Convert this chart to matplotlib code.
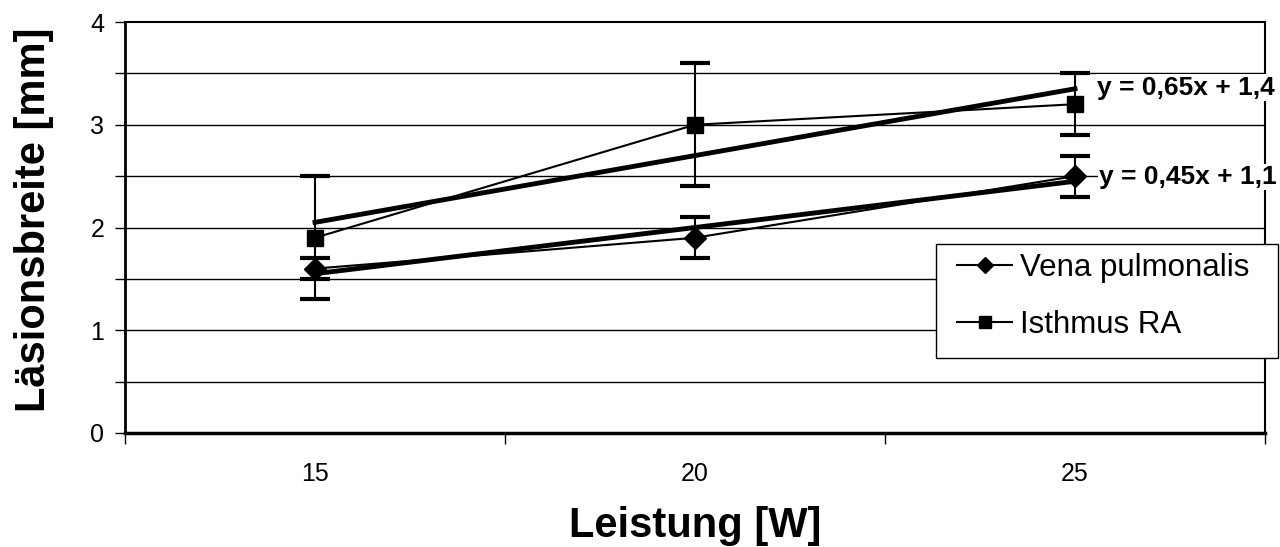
import matplotlib.pyplot as plt
import numpy as np
from matplotlib.lines import Line2D
from matplotlib.patches import Rectangle

plt.rcParams['font.family'] = ['Liberation Sans', 'DejaVu Sans']

leistung = ['15', '20', '25']
vena = [1.6, 1.9, 2.5]
vena_err = [0.1, 0.2, 0.2]
isthmus = [1.9, 3.0, 3.2]
isthmus_err = [0.6, 0.6, 0.3]
# Excel linear trendlines (slope, intercept) over category index 1..3
vena_fit = (0.45, 1.1)
isthmus_fit = (0.65, 1.4)
vena_eq = 'y = 0,45x + 1,1'
isthmus_eq = 'y = 0,65x + 1,4'

x = np.arange(1, len(leistung) + 1)

fig = plt.figure(figsize=(12.8, 5.47), dpi=100)
ax = fig.add_axes([125 / 1280, 1 - 433 / 547, 1140 / 1280, 411 / 547])

for yv in np.arange(0.5, 4.0, 0.5):
    ax.axhline(yv, color='black', lw=1.0, zorder=1)

ax.errorbar(x, vena, yerr=vena_err, color='black', lw=1.5, marker='D',
            markersize=11, capsize=11, capthick=3, elinewidth=1.5, zorder=3)
ax.errorbar(x, isthmus, yerr=isthmus_err, color='black', lw=1.5, marker='s',
            markersize=11, capsize=11, capthick=3, elinewidth=1.5, zorder=3)

ax.plot(x, vena_fit[0] * x + vena_fit[1], color='black', lw=3.5, zorder=2)
ax.plot(x, isthmus_fit[0] * x + isthmus_fit[1], color='black', lw=3.5, zorder=2)

ax.text(3.058, isthmus_fit[0] * 3 + isthmus_fit[1] + 0.01, isthmus_eq, fontsize=19,
        fontweight='bold', va='center', ha='left', zorder=5,
        bbox=dict(facecolor='white', edgecolor='none', pad=1))
ax.text(3.063, vena_fit[0] * 3 + vena_fit[1] + 0.04, vena_eq, fontsize=19,
        fontweight='bold', va='center', ha='left', zorder=5,
        bbox=dict(facecolor='white', edgecolor='none', pad=1))

ax.set_xlim(0.5, 3.5)
ax.set_ylim(0, 4)
ax.set_xticks(np.arange(0.5, 3.6, 1.0))
ax.set_xticklabels([])
ax.set_xticks(x, minor=True)
ax.set_xticklabels(leistung, minor=True)
ax.tick_params(axis='x', which='minor', length=0, labelsize=18, pad=21)
ax.tick_params(axis='x', which='major', length=8, width=1, direction='out')
yt = np.arange(0, 4.01, 0.5)
ax.set_yticks(yt)
ax.set_yticklabels([('%d' % v if v == int(v) else '') for v in yt])
ax.tick_params(axis='y', length=7, width=1, direction='out', labelsize=18, pad=8)

for s in ['top', 'right']:
    ax.spines[s].set_linewidth(1.5)
ax.spines['left'].set_linewidth(2)
ax.spines['bottom'].set_linewidth(2.5)

ax.set_xlabel('Leistung [W]', fontsize=30, fontweight='bold')
ax.set_ylabel('Läsionsbreite [mm]', fontsize=30, fontweight='bold')
ax.xaxis.set_label_coords(0.5, -0.178)
ax.yaxis.set_label_coords(-0.062, 0.52)

# legend frame drawn separately to match the reference box size
box = Rectangle((0.7114, 0.1825), 0.3, 0.2774, transform=ax.transAxes,
                facecolor='white', edgecolor='black', lw=1, clip_on=False, zorder=6)
ax.add_patch(box)
handles = [Line2D([], [], color='black', lw=1.5, marker='D', markersize=8),
           Line2D([], [], color='black', lw=1.5, marker='s', markersize=8)]
leg = ax.legend(handles, ['Vena pulmonalis', 'Isthmus RA'], loc='upper left',
                bbox_to_anchor=(0.722, 0.46), fontsize=22.5, frameon=False,
                handlelength=1.75, handletextpad=0.25, labelspacing=0.86,
                borderpad=0.3, borderaxespad=0)
leg.set_zorder(7)

fig.savefig('out.png', dpi=100)
